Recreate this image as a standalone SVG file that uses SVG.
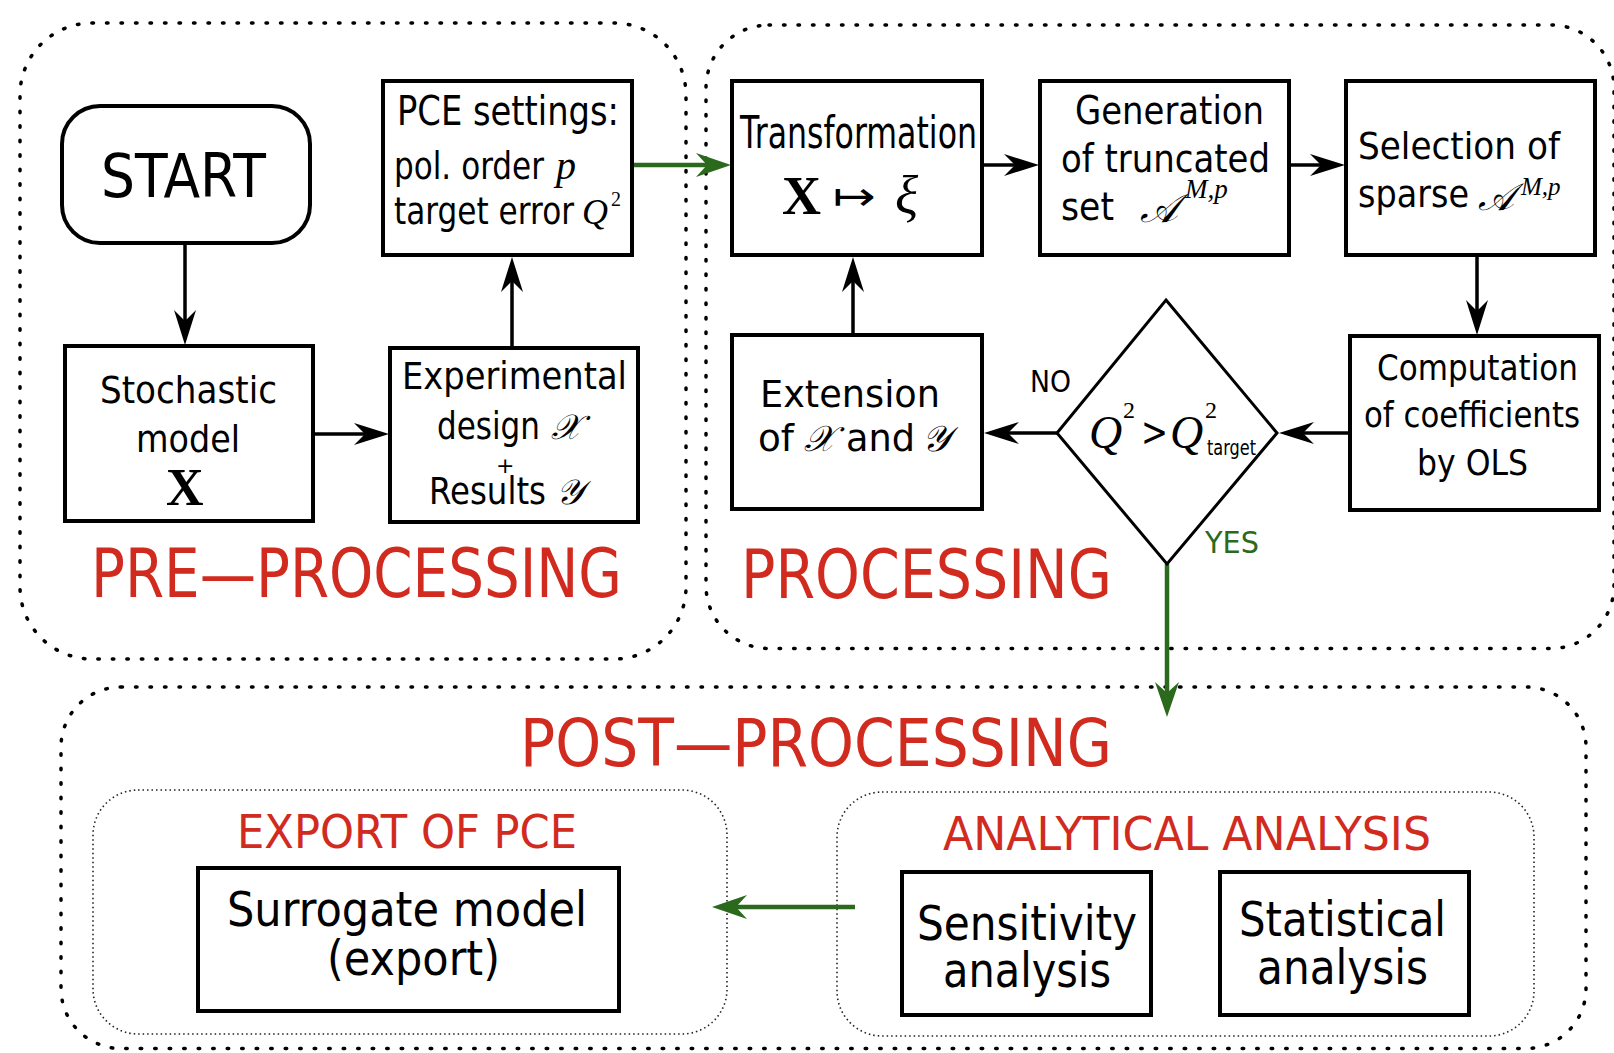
<svg xmlns="http://www.w3.org/2000/svg" width="1614" height="1053" viewBox="0 0 1614 1053">
<style>
.box{fill:#fff;stroke:#000;stroke-width:4}
.cont{fill:none;stroke:#000;stroke-width:3.5;stroke-dasharray:1.5 13;stroke-linecap:round}
.inner{fill:none;stroke:#222;stroke-width:1.6;stroke-dasharray:1.5 3}
.t{font-family:"DejaVu Sans","Liberation Sans",sans-serif;fill:#000}
.red{fill:#d12b1f}
.grn{fill:#2b6a1c}
.m{font-family:"Liberation Serif","DejaVu Serif",serif;font-style:italic;fill:#000}
.n{font-family:"Liberation Serif","DejaVu Serif",serif;font-style:normal;fill:#000}
.s{font-family:"DejaVu Serif","DejaVu Sans","Liberation Serif",serif;font-style:italic;fill:#000}
.bx{font-family:"Liberation Serif","DejaVu Serif",serif;font-weight:bold;fill:#000}
.edge{stroke:#000;stroke-width:3.5;fill:none}
.ge{stroke:#2b6a1c;stroke-width:4.5;fill:none}
</style>
<defs>
<marker id="ah" markerUnits="userSpaceOnUse" markerWidth="50" markerHeight="30" viewBox="-40 -15 50 30" refX="0" refY="0" orient="auto"><path d="M10,0 L-25,-11 L-14,0 L-25,11 Z" fill="#000"/></marker>
<marker id="ahg" markerUnits="userSpaceOnUse" markerWidth="50" markerHeight="30" viewBox="-40 -15 50 30" refX="0" refY="0" orient="auto"><path d="M10,0 L-25,-12 L-14,0 L-25,12 Z" fill="#2b6a1c"/></marker>
</defs>

<g id="containers">
<rect id="pre-container" class="cont" x="20" y="23" width="666" height="636" rx="72"/>
<rect id="proc-container" class="cont" x="706" y="25" width="908" height="623.5" rx="63"/>
<rect id="post-container" class="cont" x="61" y="687" width="1525" height="361.5" rx="60"/>
<rect id="export-container" class="inner" x="93" y="790" width="634" height="244" rx="45"/>
<rect id="analysis-container" class="inner" x="837" y="792" width="697" height="244" rx="45"/>
<text class="t red" x="91" y="597" font-size="68" textLength="531" lengthAdjust="spacingAndGlyphs">PRE—PROCESSING</text>
<text class="t red" x="741" y="598" font-size="68" textLength="371" lengthAdjust="spacingAndGlyphs">PROCESSING</text>
<text class="t red" x="520" y="766" font-size="66" textLength="592" lengthAdjust="spacingAndGlyphs">POST—PROCESSING</text>
<text class="t red" x="237" y="848" font-size="46" textLength="340" lengthAdjust="spacingAndGlyphs">EXPORT OF PCE</text>
<text class="t red" x="943" y="850" font-size="46" textLength="488" lengthAdjust="spacingAndGlyphs">ANALYTICAL ANALYSIS</text>
</g>

<g id="connectors">
<line class="edge" x1="185" y1="243" x2="185" y2="335" marker-end="url(#ah)"/>
<line class="edge" x1="313" y1="434" x2="379" y2="434" marker-end="url(#ah)"/>
<line class="edge" x1="512" y1="348" x2="512" y2="267" marker-end="url(#ah)"/>
<line class="ge" x1="632" y1="165" x2="721" y2="165" marker-end="url(#ahg)"/>
<line class="edge" x1="982" y1="165" x2="1029" y2="165" marker-end="url(#ah)"/>
<line class="edge" x1="1289" y1="165" x2="1335" y2="165" marker-end="url(#ah)"/>
<line class="edge" x1="1477" y1="255" x2="1477" y2="325" marker-end="url(#ah)"/>
<line class="edge" x1="1350" y1="433" x2="1289" y2="433" marker-end="url(#ah)"/>
<line class="edge" x1="1057" y1="433" x2="994" y2="433" marker-end="url(#ah)"/>
<line class="edge" x1="853" y1="335" x2="853" y2="267" marker-end="url(#ah)"/>
<line class="ge" x1="1167" y1="564" x2="1167" y2="707" marker-end="url(#ahg)"/>
<line class="ge" x1="855" y1="907" x2="722" y2="907" marker-end="url(#ahg)"/>
<text class="t" x="1030" y="392" font-size="30" textLength="41" lengthAdjust="spacingAndGlyphs">NO</text>
<text class="t grn" x="1205" y="553" font-size="31" textLength="54" lengthAdjust="spacingAndGlyphs">YES</text>
</g>

<g id="start">
<rect class="box" x="62" y="106" width="248" height="137" rx="38"/>
<text class="t" x="101" y="197" font-size="60" textLength="165" lengthAdjust="spacingAndGlyphs">START</text>
</g>

<g id="pce-settings">
<rect class="box" x="383" y="81" width="249" height="174"/>
<text class="t" x="397" y="125" font-size="40" textLength="222" lengthAdjust="spacingAndGlyphs">PCE settings:</text>
<text class="t" x="394" y="179" font-size="37" textLength="150" lengthAdjust="spacingAndGlyphs">pol. order</text>
<text class="m" x="556" y="179" font-size="40">p</text>
<text class="t" x="394" y="224" font-size="37" textLength="180" lengthAdjust="spacingAndGlyphs">target error</text>
<text class="m" x="582" y="224" font-size="36">Q</text>
<text class="n" x="611" y="206" font-size="20">2</text>
</g>

<g id="stochastic-model">
<rect class="box" x="65" y="346" width="248" height="175"/>
<text class="t" x="100" y="403" font-size="38" textLength="177" lengthAdjust="spacingAndGlyphs">Stochastic</text>
<text class="t" x="136" y="452" font-size="38" textLength="104" lengthAdjust="spacingAndGlyphs">model</text>
<text class="bx" x="166" y="505" font-size="52">X</text>
</g>

<g id="experimental-design">
<rect class="box" x="390" y="348" width="248" height="174"/>
<text class="t" x="402" y="389" font-size="37" textLength="225" lengthAdjust="spacingAndGlyphs">Experimental</text>
<text class="t" x="437" y="439" font-size="37" textLength="103" lengthAdjust="spacingAndGlyphs">design</text>
<text class="s" x="551" y="439" font-size="35">𝒳</text>
<text class="t" x="496" y="473" font-size="22">+</text>
<text class="t" x="429" y="504" font-size="37" textLength="117" lengthAdjust="spacingAndGlyphs">Results</text>
<text class="s" x="556" y="504" font-size="35">𝒴</text>
</g>

<g id="transformation">
<rect class="box" x="732" y="81" width="250" height="174"/>
<text class="t" x="740" y="148" font-size="45" textLength="237" lengthAdjust="spacingAndGlyphs">Transformation</text>
<text class="bx" x="782" y="214" font-size="54">X</text>
<text class="t" x="833" y="210" font-size="40" textLength="43" lengthAdjust="spacingAndGlyphs">↦</text>
<text class="m" x="895" y="214" font-size="54">ξ</text>
</g>

<g id="generation">
<rect class="box" x="1040" y="81" width="249" height="174"/>
<text class="t" x="1075" y="124" font-size="39" textLength="189" lengthAdjust="spacingAndGlyphs">Generation</text>
<text class="t" x="1061" y="172" font-size="39" textLength="209" lengthAdjust="spacingAndGlyphs">of truncated</text>
<text class="t" x="1061" y="220" font-size="39" textLength="53" lengthAdjust="spacingAndGlyphs">set</text>
<text class="s" x="1140" y="222" font-size="40">𝒜</text>
<text class="m" x="1185" y="198" font-size="27">M,p</text>
</g>

<g id="selection">
<rect class="box" x="1346" y="81" width="249" height="174"/>
<text class="t" x="1358" y="159" font-size="38" textLength="202" lengthAdjust="spacingAndGlyphs">Selection of</text>
<text class="t" x="1358" y="207" font-size="38" textLength="111" lengthAdjust="spacingAndGlyphs">sparse</text>
<text class="s" x="1478" y="210" font-size="38">𝒜</text>
<text class="m" x="1521" y="195" font-size="25">M,p</text>
</g>

<g id="computation">
<rect class="box" x="1350" y="336" width="249" height="174"/>
<text class="t" x="1377" y="380" font-size="35" textLength="201" lengthAdjust="spacingAndGlyphs">Computation</text>
<text class="t" x="1364" y="427" font-size="35" textLength="216" lengthAdjust="spacingAndGlyphs">of coefficients</text>
<text class="t" x="1417" y="475" font-size="35" textLength="111" lengthAdjust="spacingAndGlyphs">by OLS</text>
</g>

<g id="decision">
<polygon points="1166,300 1277,433 1167,564 1057,433" fill="#fff" stroke="#000" stroke-width="3"/>
<text class="m" x="1089" y="448" font-size="46">Q</text>
<text class="n" x="1123" y="418" font-size="24">2</text>
<text class="t" x="1141" y="446" font-size="40" textLength="27" lengthAdjust="spacingAndGlyphs">&gt;</text>
<text class="m" x="1170" y="448" font-size="46">Q</text>
<text class="n" x="1205" y="418" font-size="24">2</text>
<text class="t" x="1207" y="455" font-size="21" textLength="49" lengthAdjust="spacingAndGlyphs">target</text>
</g>

<g id="extension">
<rect class="box" x="732" y="335" width="250" height="174"/>
<text class="t" x="760" y="407" font-size="38" textLength="180" lengthAdjust="spacingAndGlyphs">Extension</text>
<text class="t" x="758" y="451" font-size="38" textLength="36" lengthAdjust="spacingAndGlyphs">of</text>
<text class="s" x="804" y="451" font-size="36">𝒳</text>
<text class="t" x="846" y="451" font-size="38" textLength="69" lengthAdjust="spacingAndGlyphs">and</text>
<text class="s" x="922" y="451" font-size="36">𝒴</text>
</g>

<g id="surrogate-model">
<rect class="box" x="198" y="868" width="421" height="143"/>
<text class="t" x="227" y="926" font-size="48" textLength="360" lengthAdjust="spacingAndGlyphs">Surrogate model</text>
<text class="t" x="327" y="975" font-size="48" textLength="173" lengthAdjust="spacingAndGlyphs">(export)</text>
</g>

<g id="sensitivity-analysis">
<rect class="box" x="902" y="872" width="249" height="143"/>
<text class="t" x="917" y="940" font-size="48" textLength="220" lengthAdjust="spacingAndGlyphs">Sensitivity</text>
<text class="t" x="943" y="987" font-size="48" textLength="168" lengthAdjust="spacingAndGlyphs">analysis</text>
</g>

<g id="statistical-analysis">
<rect class="box" x="1220" y="872" width="249" height="143"/>
<text class="t" x="1239" y="936" font-size="48" textLength="207" lengthAdjust="spacingAndGlyphs">Statistical</text>
<text class="t" x="1257" y="984" font-size="48" textLength="171" lengthAdjust="spacingAndGlyphs">analysis</text>
</g>
</svg>
